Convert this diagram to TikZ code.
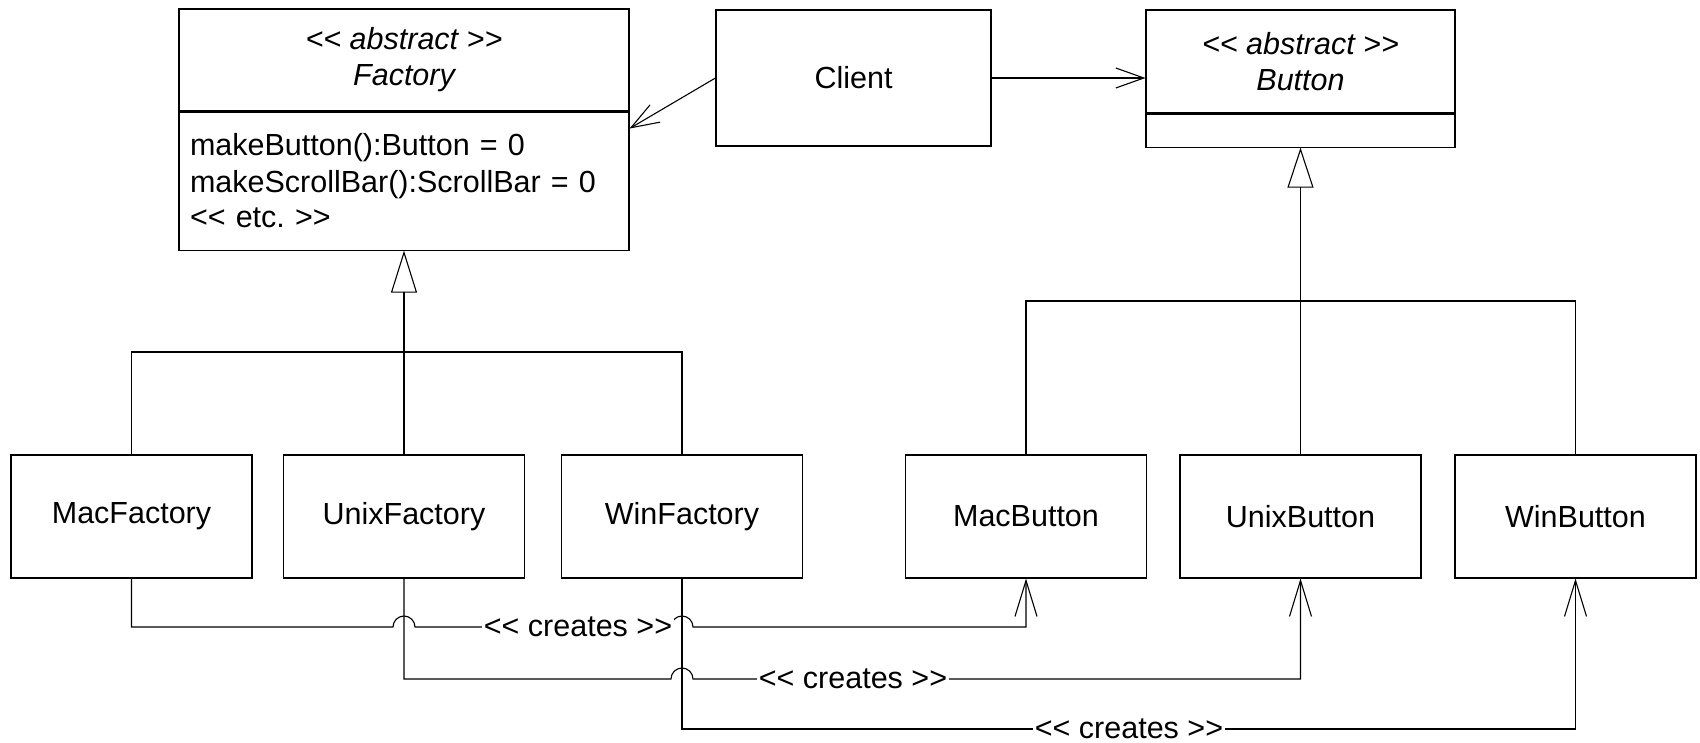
\documentclass[tikz,border=0pt]{standalone}
\usepackage{fontspec}
\setmainfont{Liberation Sans}
\usetikzlibrary{arrows.meta}
\frenchspacing

\begin{document}
\begin{tikzpicture}[x=1pt,y=1pt,line width=1.1pt,font=\fontsize{30.5}{36}\selectfont]
                        \tikzstyle{cls}=[draw, rectangle, inner sep=0pt, minimum height=123pt, minimum width=241pt]
                        \tikzstyle{head}=[draw, inner sep=0pt, align=center, font=\fontsize{30.5}{36}\selectfont\itshape]
                        \tikzstyle{inherit}=[-{Triangle[open,length=42pt,width=26pt]}]
                        \tikzstyle{uses}=[-{Straight Barb[length=28pt,width=20pt]}]
                        \tikzstyle{creates}=[-{Straight Barb[length=36pt,width=22pt]}]
                        \tikzstyle{lbl}=[fill=white, inner xsep=2pt, inner ysep=1pt]
                        \useasboundingbox (0,0) rectangle (1700,-743);
                        % abstract classes and client
                        \node[head, minimum width=450pt, minimum height=102pt] (fachead) at (404,-60) {<{}< abstract >{}>\\Factory};
                        \node[draw, anchor=north, minimum width=450pt, minimum height=138pt, text width=428pt, inner xsep=11pt, align=left] (facops) at (fachead.south) {makeButton():Button = 0\\makeScrollBar():ScrollBar = 0\\<{}< etc.\ >{}>};
                        \node[draw, minimum width=275pt, minimum height=136pt] (client) at (853.5,-78) {Client};
                        \node[head, minimum width=309pt, minimum height=103pt] (btnhead) at (1300.5,-61.5) {<{}< abstract >{}>\\Button};
                        \node[draw, anchor=north, minimum width=309pt, minimum height=33pt] (btnbody) at (btnhead.south) {};
                        % concrete classes
                        \node[cls] (macf) at (131.5,-516.5) {MacFactory};
                        \node[cls] (unixf) at (404,-516.5) {UnixFactory};
                        \node[cls] (winf) at (682,-516.5) {WinFactory};
                        \node[cls] (macb) at (1026,-516.5) {MacButton};
                        \node[cls] (unixb) at (1300.5,-516.5) {UnixButton};
                        \node[cls] (winb) at (1575.5,-516.5) {WinButton};
                        % client uses
                        \draw[uses] (client.west) -- ([yshift=-17pt]facops.north east);
                        \draw[uses] (client.east) -- (client.east -| btnhead.west);
                        % inheritance
                        \coordinate (fachub) at (404,-352);
                        \draw (macf.north) |- (fachub) -| (winf.north);
                        \draw (unixf.north) -- (fachub);
                        \draw[inherit] (fachub) -- (facops.south);
                        \coordinate (bthub) at (1300.5,-301);
                        \draw (macb.north) |- (bthub) -| (winb.north);
                        \draw (unixb.north) -- (bthub);
                        \draw[-{Triangle[open,length=40pt,width=26pt]}] (bthub) -- (btnbody.south);
                        % creates
                        \coordinate (r1) at (0,-627);
                        \coordinate (r2) at (0,-679);
                        \coordinate (r3) at (0,-729);
                        \draw[creates] (macf.south) |- ([xshift=-11pt]unixf.south |- r1)
                            arc[start angle=180, end angle=0, radius=11pt] -- ([xshift=-11pt]winf.south |- r1)
                            arc[start angle=180, end angle=0, radius=11pt] -| (macb.south);
                        \draw[creates] (unixf.south) |- ([xshift=-11pt]winf.south |- r2)
                            arc[start angle=180, end angle=0, radius=11pt] -| (unixb.south);
                        \draw[creates] (winf.south) |- (winb.south |- r3) -- (winb.south);
                        \node[lbl] (lbl1) at (578,-627) {<{}< creates >{}>};
                        \node[lbl] (lbl2) at (853,-679) {<{}< creates >{}>};
                        \node[lbl] (lbl3) at (1129,-729) {<{}< creates >{}>};
                    \end{tikzpicture}
\end{document}
